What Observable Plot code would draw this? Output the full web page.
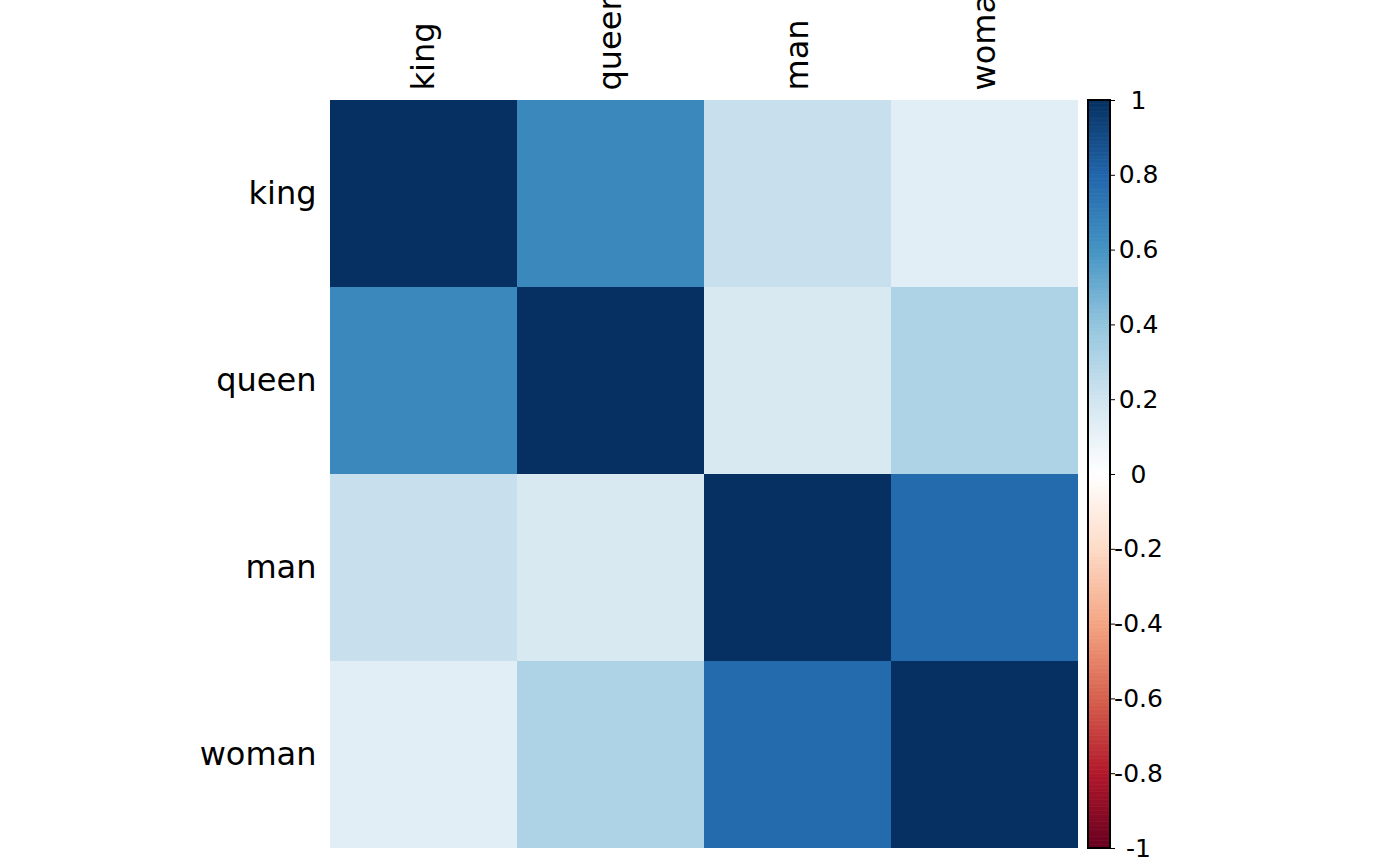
<!DOCTYPE html>
<html>
<head>
<meta charset="utf-8">
<script src="https://cdn.jsdelivr.net/npm/d3@7"></script>
<script src="https://cdn.jsdelivr.net/npm/@observablehq/plot@0.6"></script>
<style>
  html, body { margin: 0; padding: 0; background: #fff; }
  #wrap { position: relative; width: 1400px; height: 866px; overflow: hidden; }
  #wrap > svg { position: absolute; top: 0; }
</style>
</head>
<body>
<div id="wrap"></div>
<script>
// Variables and correlation matrix
const vars = ["king", "queen", "man", "woman"];
const rowKing  = [1.00, 0.65, 0.23, 0.13];
const rowQueen = [0.65, 1.00, 0.17, 0.31];
const rowMan   = [0.23, 0.17, 1.00, 0.78];
const rowWoman = [0.13, 0.31, 0.78, 1.00];
const corrRows = [rowKing, rowQueen, rowMan, rowWoman];

// corrplot RdBu palette
const paletteColors = ["#67001F", "#B2182B", "#D6604D", "#F4A582", "#FDDBC7", "#FFFFFF",
                       "#D1E5F0", "#92C5DE", "#4393C3", "#2166AC", "#053061"];
const paletteStops = [-1, -0.8, -0.6, -0.4, -0.2, 0, 0.2, 0.4, 0.6, 0.8, 1];
const legendTicks = [-1, -0.8, -0.6, -0.4, -0.2, 0, 0.2, 0.4, 0.6, 0.8, 1];
const legendLabels = ["-1", "-0.8", "-0.6", "-0.4", "-0.2", "0", "0.2", "0.4", "0.6", "0.8", "1"];

const cells = [];
corrRows.forEach((row, i) => row.forEach((v, j) => cells.push({row: vars[i], col: vars[j], value: v})));

const colorScale = {type: "linear", domain: paletteStops, range: paletteColors, interpolate: "rgb"};
const font = "DejaVu Sans";

const main = Plot.plot({
  width: 1400, height: 866,
  marginLeft: 330, marginRight: 322, marginTop: 100, marginBottom: 18,
  style: {fontFamily: font, background: "transparent", overflow: "visible"},
  x: {domain: vars, padding: 0, axis: null, label: null},
  y: {domain: vars, padding: 0, axis: null, label: null},
  color: colorScale,
  marks: [
    Plot.cell(cells, {x: "col", y: "row", fill: "value", shapeRendering: "crispEdges"}),
    Plot.axisX({anchor: "top", tickSize: 0, tickPadding: 10, tickRotate: -90, fontSize: 32, fill: "#000", label: null}),
    Plot.axisY({anchor: "left", tickSize: 0, tickPadding: 14, fontSize: 32, fill: "#000", label: null})
  ]
});
main.style.left = "0px";
document.getElementById("wrap").appendChild(main);

// Colour bar legend (a fine colour ramp drawn through the same colour scale)
const barSteps = d3.range(200).map(k => ({y1: -1 + k * 0.01, y2: -1 + (k + 1) * 0.01, v: -1 + (k + 0.5) * 0.01}));
const bar = Plot.plot({
  width: 322, height: 866,
  marginLeft: 10, marginRight: 290, marginTop: 100, marginBottom: 18,
  style: {fontFamily: font, background: "transparent", overflow: "visible"},
  x: {domain: [0, 1], axis: null},
  y: {domain: [-1, 1], axis: null},
  color: colorScale,
  marks: [
    Plot.rect(barSteps, {x1: 0, x2: 1, y1: "y1", y2: "y2", fill: "v", stroke: "v", strokeWidth: 0.6}),
    Plot.rect([0], {x1: 0, x2: 1, y1: -1, y2: 1, fill: "none", stroke: "#000", strokeWidth: 2}),
    Plot.axisY({anchor: "right", ticks: legendTicks, tickSize: 4, tickPadding: 24, textAnchor: "middle",
                fontSize: 25, fill: "#000", label: null,
                tickFormat: d => legendLabels[legendTicks.findIndex(t => Math.abs(t - d) < 1e-9)]})
  ]
});
bar.style.left = "1078px";
document.getElementById("wrap").appendChild(bar);
</script>
</body>
</html>
